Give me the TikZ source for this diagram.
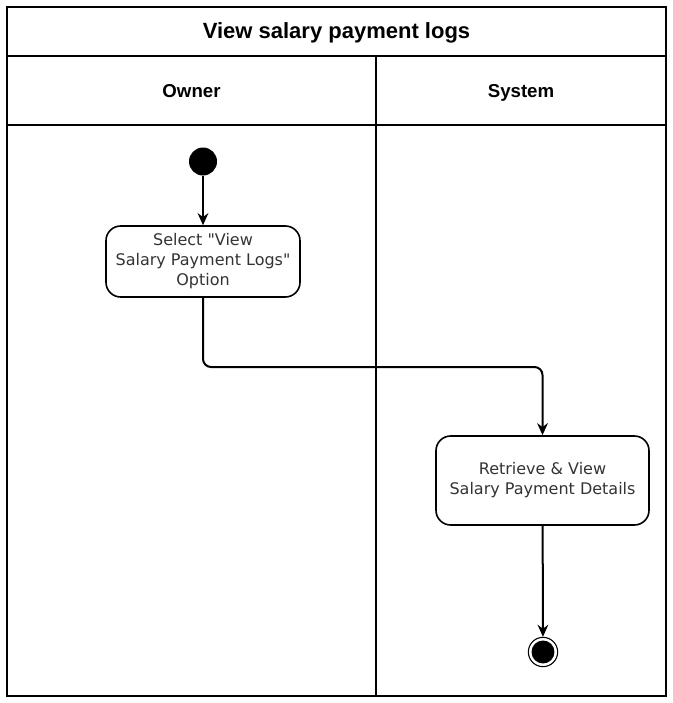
\documentclass[tikz,border=0pt]{standalone}
\usepackage{fontspec}
\setmainfont{Liberation Sans}
\newfontfamily\dejavu{DejaVu Sans}
\usetikzlibrary{arrows.meta}

\begin{document}
\begin{tikzpicture}[x=0.75pt,y=-0.75pt,
  lane/.style={line width=1.6pt},
  hdr/.style={anchor=base,font=\bfseries\fontsize{14}{17}\selectfont},
  act/.style={draw,line width=1.2pt,rounded corners=11pt,align=center,text=black!80,
    font=\dejavu\fontsize{12}{15}\selectfont},
  flow/.style={line width=1.5pt,-{Stealth[length=9pt,width=8pt]}}]
\useasboundingbox (0,0) rectangle (673,703);
\draw[lane](7,7) rectangle (666,696);
\draw[lane](7,56)--(666,56)(7,125)--(666,125)(376,56)--(376,696);
\node[anchor=base,font=\bfseries\fontsize{16.5}{20}\selectfont] (title) at (336.5,38) {View salary payment logs};
\node[hdr] (owner) at (191.5,97.5) {Owner};
\node[hdr] (system) at (521,97.5) {System};

\node[circle,fill,inner sep=0pt,minimum size=21pt] (start) at (203,161.5) {};
\node[act,minimum width=145.5pt,minimum height=53.25pt] (select) at (203,261.5)
  {Select "View\\Salary Payment Logs"\\Option};
\node[act,minimum width=159.75pt,minimum height=66.75pt] (retrieve) at (542.5,480.5)
  {Retrieve \& View\\Salary Payment Details};
\node[circle,draw,line width=0.8pt,inner sep=0pt,minimum size=22pt] (end) at (543,652) {};
\fill (end.center) circle[radius=8.6pt];
\coordinate (bend) at (376,367);

\draw[flow](start)--(select);
\draw[flow,rounded corners=6pt](select.south)|-(bend)-|(retrieve.north);
\draw[flow](retrieve)--(end);
\end{tikzpicture}
\end{document}
